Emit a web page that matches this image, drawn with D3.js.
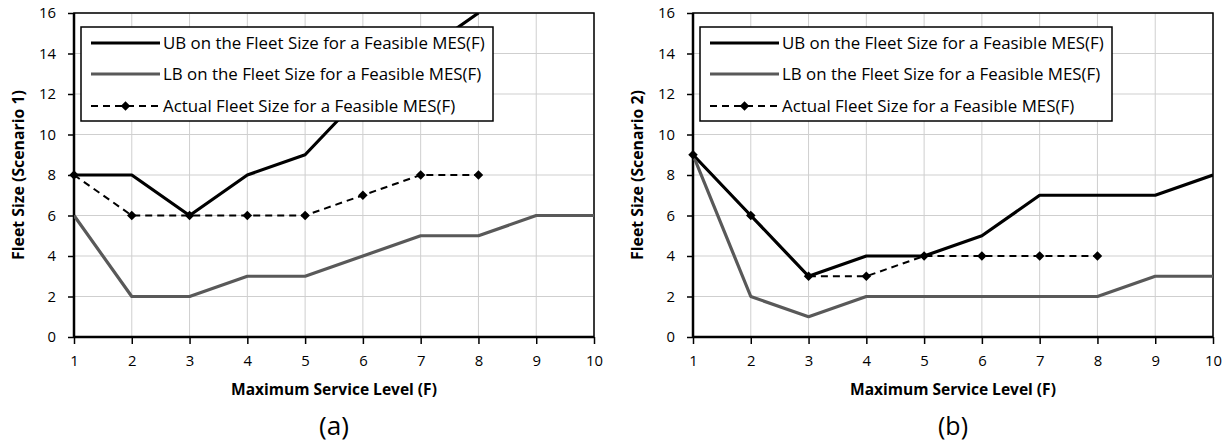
<!DOCTYPE html>
<html>
<head>
<meta charset="utf-8">
<script src="https://cdn.jsdelivr.net/npm/d3@7"></script>
<style>
  body { margin: 0; background: #fff; }
  text { font-family: "Open Sans", "Noto Sans", sans-serif; fill: #000; }
</style>
</head>
<body>
<div id="visualization"></div>
<script>
// Data
const serviceLevels = [1, 2, 3, 4, 5, 6, 7, 8, 9, 10];
const yTicks = [0, 2, 4, 6, 8, 10, 12, 14, 16];
const legendLabels = [
    'UB on the Fleet Size for a Feasible MES(F)',
    'LB on the Fleet Size for a Feasible MES(F)',
    'Actual Fleet Size for a Feasible MES(F)'
];

// Scenario 1
const ub1 = [8, 8, 6, 8, 9, 12, 14, 16];
const lb1 = [6, 2, 2, 3, 3, 4, 5, 5, 6, 6];
const actual1 = [8, 6, 6, 6, 6, 7, 8, 8];

// Scenario 2
const ub2 = [9, 6, 3, 4, 4, 5, 7, 7, 7, 8];
const lb2 = [9, 2, 1, 2, 2, 2, 2, 2, 3, 3];
const actual2 = [9, 6, 3, 3, 4, 4, 4, 4];

const panels = [
    {left: 74, yTitle: 'Fleet Size (Scenario 1)', tag: '(a)', ub: ub1, lb: lb1, actual: actual1},
    {left: 693, yTitle: 'Fleet Size (Scenario 2)', tag: '(b)', ub: ub2, lb: lb2, actual: actual2}
];

const width = 520, plotTop = 13, height = 324;

const svg = d3.select('#visualization')
    .append('svg')
    .attr('width', 1230)
    .attr('height', 444);

const toPoints = vals => vals.map((v, i) => ({x: serviceLevels[i], y: v}));

// scale a text's font-size so it spans the wanted width
function fitSize(sel, base, want) {
    sel.attr('font-size', base);
    const w = sel.node().getComputedTextLength();
    const size = w > 0 ? base * want / w : base;
    sel.attr('font-size', size);
    return size;
}

panels.forEach((p, pi) => {
    const g = svg.append('g').attr('transform', `translate(${p.left},${plotTop})`);

    const x = d3.scaleLinear().domain([1, 10]).range([0, width]);
    const y = d3.scaleLinear().domain([0, 16]).range([height, 0]);

    // clip so lines above 16 get cut at the border
    g.append('clipPath').attr('id', 'clip' + pi)
        .append('rect').attr('width', width).attr('height', height);

    // Gridlines
    g.append('g')
        .selectAll('line')
        .data(serviceLevels)
        .join('line')
        .attr('x1', d => x(d)).attr('x2', d => x(d))
        .attr('y1', 0).attr('y2', height)
        .attr('stroke', '#cfcfcf').attr('stroke-width', 1);
    g.append('g')
        .selectAll('line')
        .data(yTicks)
        .join('line')
        .attr('x1', 0).attr('x2', width)
        .attr('y1', d => y(d)).attr('y2', d => y(d))
        .attr('stroke', '#cfcfcf').attr('stroke-width', 1);

    // Plot border (top/right)
    g.append('rect')
        .attr('width', width).attr('height', height)
        .attr('fill', 'none').attr('stroke', '#000').attr('stroke-width', 1.5);

    // Axes
    const xAxis = g.append('g')
        .attr('transform', `translate(0,${height})`)
        .call(d3.axisBottom(x).tickValues(serviceLevels).tickFormat(d3.format('d')).tickSize(7).tickPadding(11));
    const yAxis = g.append('g')
        .call(d3.axisLeft(y).tickValues(yTicks).tickSize(6).tickPadding(12));

    // size tick labels from the widest y label
    const probe = yAxis.selectAll('.tick text').filter(d => d === 16);
    const tickSize = fitSize(probe, 15, 17);
    [xAxis, yAxis].forEach(a => {
        a.attr('font-size', tickSize).attr('font-family', null);
        a.select('.domain').attr('stroke', '#000').attr('stroke-width', 2.5);
        a.selectAll('.tick line').attr('stroke', '#000').attr('stroke-width', 1.5);
        a.selectAll('.tick text').attr('font-size', tickSize).attr('fill', '#000');
    });
    yAxis.select('.domain').attr('d', `M0,${height}V0`);
    xAxis.select('.domain').attr('d', `M0,0H${width}`);

    const line = d3.line().x(d => x(d.x)).y(d => y(d.y));
    const plot = g.append('g').attr('clip-path', `url(#clip${pi})`);

    plot.append('path')
        .datum(toPoints(p.ub))
        .attr('d', line)
        .attr('fill', 'none').attr('stroke', '#000').attr('stroke-width', 3.2)
        .attr('stroke-linejoin', 'round');

    plot.append('path')
        .datum(toPoints(p.lb))
        .attr('d', line)
        .attr('fill', 'none').attr('stroke', '#595959').attr('stroke-width', 3.2)
        .attr('stroke-linejoin', 'round');

    plot.append('path')
        .datum(toPoints(p.actual))
        .attr('d', line)
        .attr('fill', 'none').attr('stroke', '#000').attr('stroke-width', 2)
        .attr('stroke-dasharray', '7,5');

    const diamond = d3.symbol().type(d3.symbolDiamond2).size(58);
    g.append('g')
        .selectAll('path')
        .data(toPoints(p.actual))
        .join('path')
        .attr('transform', d => `translate(${x(d.x)},${y(d.y)})`)
        .attr('d', diamond)
        .attr('fill', '#000');

    // Axis titles
    const xt = g.append('text')
        .attr('x', width / 2).attr('y', 382)
        .attr('text-anchor', 'middle')
        .attr('font-weight', 'bold')
        .text('Maximum Service Level (F)');
    fitSize(xt, 14, 206);
    const yt = g.append('text')
        .attr('transform', `translate(-50,${height / 2}) rotate(-90)`)
        .attr('text-anchor', 'middle')
        .attr('font-weight', 'bold')
        .text(p.yTitle);
    fitSize(yt, 14, 170);
    const tag = g.append('text')
        .attr('x', width / 2).attr('y', 422)
        .attr('text-anchor', 'middle')
        .text(p.tag);
    fitSize(tag, 20, 30);

    // Legend
    const lg = g.append('g').attr('transform', 'translate(7,14)');
    lg.append('rect')
        .attr('width', 412).attr('height', 94)
        .attr('fill', '#fff').attr('stroke', '#000').attr('stroke-width', 1.5);
    const rowY = [16, 47, 79];
    const styles = [
        {stroke: '#000', w: 3.2, dash: null, marker: false},
        {stroke: '#595959', w: 3.2, dash: null, marker: false},
        {stroke: '#000', w: 2, dash: '7,5', marker: true}
    ];
    let legendSize = null;
    legendLabels.forEach((lab, i) => {
        const s = styles[i];
        lg.append('line')
            .attr('x1', 10).attr('x2', 79)
            .attr('y1', rowY[i]).attr('y2', rowY[i])
            .attr('stroke', s.stroke).attr('stroke-width', s.w)
            .attr('stroke-dasharray', s.dash);
        if (s.marker) {
            lg.append('path')
                .attr('transform', `translate(44.5,${rowY[i]})`)
                .attr('d', diamond).attr('fill', '#000');
        }
        const t = lg.append('text')
            .attr('x', 82).attr('y', rowY[i])
            .attr('dy', '0.35em')
            .text(lab);
        if (legendSize === null) legendSize = fitSize(t, 15, 322);
        else t.attr('font-size', legendSize);
    });
});
</script>
</body>
</html>
